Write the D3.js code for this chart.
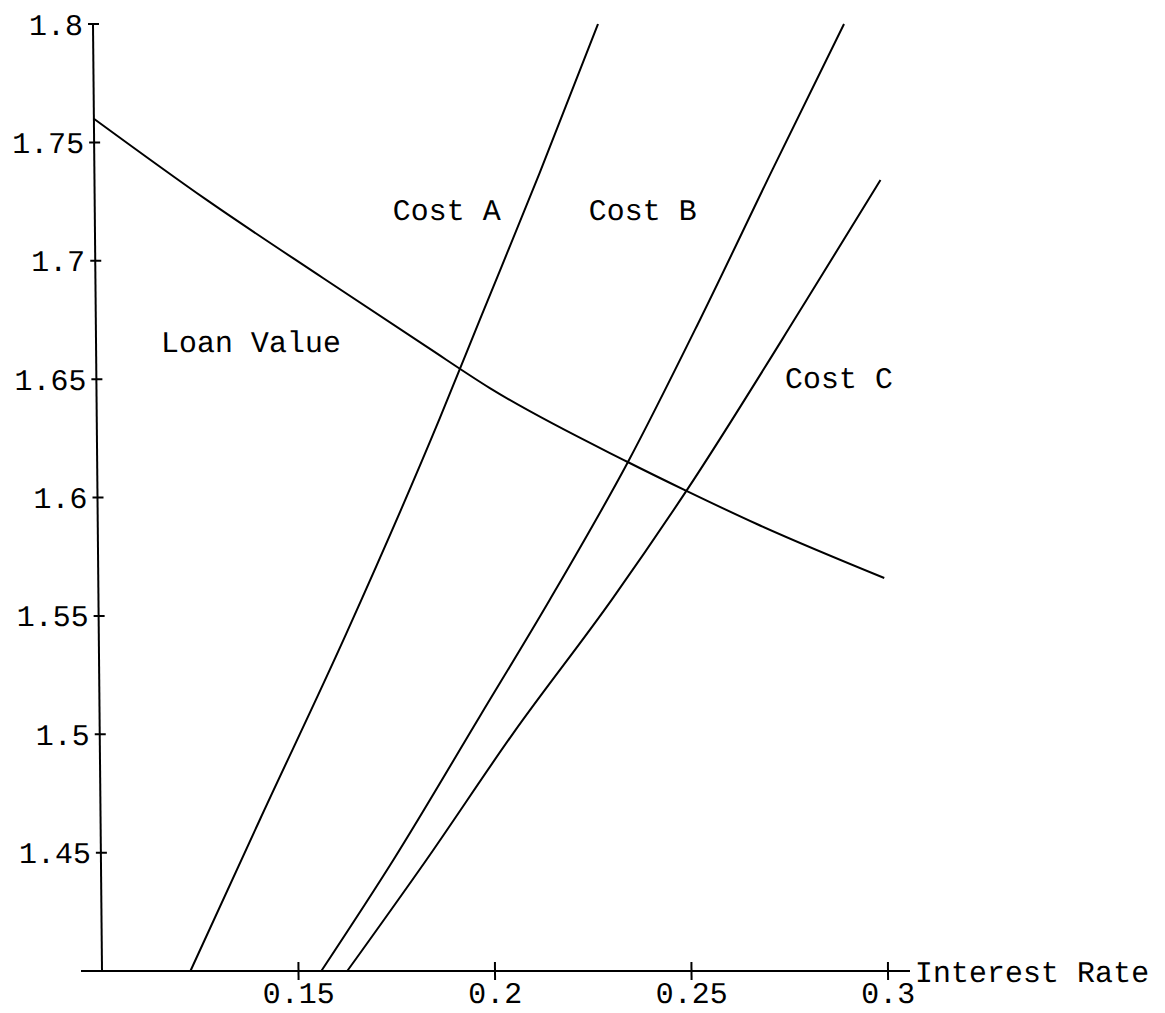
<!DOCTYPE html>
<html>
<head>
<meta charset="utf-8">
<script src="https://cdn.jsdelivr.net/npm/d3@7"></script>
<style>
  html, body { margin: 0; padding: 0; background: #fff; }
  svg { display: block; }
  text { font-family: "Liberation Mono", "DejaVu Sans Mono", monospace; font-size: 30px; fill: #000; }
</style>
</head>
<body>
<svg id="chart" width="1165" height="1013"></svg>
<script>
// Axis ticks
const xTickValues = [0.15, 0.2, 0.25, 0.3];
const xTickLabels = ["0.15", "0.2", "0.25", "0.3"];
const yTickValues = [1.45, 1.5, 1.55, 1.6, 1.65, 1.7, 1.75, 1.8];
const yTickLabels = ["1.45", "1.5", "1.55", "1.6", "1.65", "1.7", "1.75", "1.8"];
const xAxisTitle = "Interest Rate";

// Loan value against interest rate
const loanRate  = [0.1, 0.1285, 0.1579, 0.1842, 0.2001, 0.2350, 0.2500, 0.2677, 0.3];
const loanValue = [1.760, 1.7257, 1.6927, 1.6636, 1.6462, 1.6150, 1.6027, 1.5888, 1.5660];

// Cost curves
const costARate  = [0.1225, 0.1405, 0.1630, 0.1873, 0.1977, 0.2133, 0.2285];
const costAValue = [1.4, 1.4638, 1.5426, 1.6335, 1.6750, 1.7371, 1.8];

const costBRate  = [0.1558, 0.1744, 0.1967, 0.2148, 0.2351, 0.2537, 0.2727, 0.2911];
const costBValue = [1.4, 1.4469, 1.5074, 1.5567, 1.6151, 1.6750, 1.7390, 1.8];

const costCRate  = [0.1624, 0.1828, 0.2052, 0.2309, 0.2499, 0.2809, 0.3];
const costCValue = [1.4, 1.4469, 1.5004, 1.5575, 1.6029, 1.6834, 1.7341];

// Curve names and where each name sits (rate, value)
const curveNames = ["Loan Value", "Cost A", "Cost B", "Cost C"];
const nameRate   = [0.1165, 0.1758, 0.2257, 0.2752];
const nameValue  = [1.6615, 1.7172, 1.7172, 1.6463];

const svg = d3.select("#chart");

const x = d3.scaleLinear().domain([0.1, 0.3]).range([102, 888]);
const y = d3.scaleLinear().domain([1.4, 1.8]).range([971, 24]);

// The whole plot leans very slightly to the left going up
const g = svg.append("g")
  .attr("transform", `translate(0,${y(1.4)}) skewX(0.545) translate(0,${-y(1.4)})`);

const ink = "#000";

// x axis line, extended a little past both ends
g.append("line")
  .attr("x1", x(0.1) - 21).attr("x2", x(0.3) + 22)
  .attr("y1", y(1.4)).attr("y2", y(1.4))
  .attr("stroke", ink).attr("stroke-width", 2);

// y axis line
g.append("line")
  .attr("x1", x(0.1)).attr("x2", x(0.1))
  .attr("y1", y(1.8)).attr("y2", y(1.4))
  .attr("stroke", ink).attr("stroke-width", 2);

// x ticks: short crosses through the axis
const xt = g.append("g").selectAll("g").data(xTickValues).join("g")
  .attr("transform", d => `translate(${x(d)},${y(1.4)})`);
xt.append("line").attr("y1", -9).attr("y2", 9).attr("stroke", ink).attr("stroke-width", 2);
xt.append("text")
  .attr("y", 32).attr("text-anchor", "middle")
  .text((d, i) => xTickLabels[i]);

// y ticks
const yt = g.append("g").selectAll("g").data(yTickValues).join("g")
  .attr("transform", d => `translate(${x(0.1)},${y(d)})`);
yt.append("line").attr("x1", -5).attr("x2", 6).attr("stroke", ink).attr("stroke-width", 2);
yt.append("text")
  .attr("x", -10).attr("dy", "0.35em").attr("text-anchor", "end")
  .text((d, i) => yTickLabels[i]);

// axis title to the right of the x axis
g.append("text")
  .attr("x", x(0.3) + 27).attr("y", y(1.4) + 11)
  .text(xAxisTitle);

// curves
const series = [
  [loanRate, loanValue],
  [costARate, costAValue],
  [costBRate, costBValue],
  [costCRate, costCValue]
];
const line = d3.line()
  .x(d => x(d[0])).y(d => y(d[1]))
  .curve(d3.curveMonotoneX);

g.append("g").selectAll("path").data(series).join("path")
  .attr("d", s => line(s[0].map((r, i) => [r, s[1][i]])))
  .attr("fill", "none")
  .attr("stroke", ink)
  .attr("stroke-width", 2)
  .attr("stroke-linejoin", "round");

// curve names
g.append("g").selectAll("text").data(curveNames).join("text")
  .attr("x", (d, i) => x(nameRate[i]))
  .attr("y", (d, i) => y(nameValue[i]))
  .text(d => d);
</script>
</body>
</html>
